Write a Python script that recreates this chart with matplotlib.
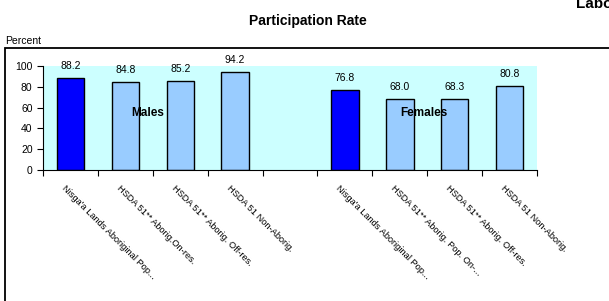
import matplotlib
matplotlib.use("Agg")
import matplotlib.pyplot as plt
from matplotlib.patches import Rectangle

categories = ["Nisga'a Lands Aboriginal Pop...", "HSDA 51** Aborig.On-res.",
              "HSDA 51** Aborig. Off-res.", "HSDA 51 Non-Aborig.", "",
              "Nisga'a Lands Aboriginal Pop...", "HSDA 51** Aborig. Pop. On-...",
              "HSDA 51** Aborig. Off-res.", "HSDA 51 Non-Aborig."]
values = [88.2, 84.8, 85.2, 94.2, None, 76.8, 68.0, 68.3, 80.8]
value_labels = ["88.2", "84.8", "85.2", "94.2", "", "76.8", "68.0", "68.3", "80.8"]
colors = ["#0000FF", "#99CCFF", "#99CCFF", "#99CCFF", None,
          "#0000FF", "#99CCFF", "#99CCFF", "#99CCFF"]
group_labels = ["Males", "Females"]
group_label_pos = [1.4, 6.43]
group_label_y = 55

W, H = 609, 301
fig = plt.figure(figsize=(W/100, H/100), dpi=100)
fig.patch.set_facecolor("white")

# frame
fig.add_artist(Rectangle((5/W, -0.1), 1.2, (1-48/H)+0.1, transform=fig.transFigure,
                         fill=False, edgecolor="black", linewidth=1.3))

ax = fig.add_axes([43/W, 1-170/H, (537-43)/W, (170-66)/H])
ax.set_facecolor("#CCFFFF")
for i, v in enumerate(values):
    if v is None:
        continue
    ax.bar(i, v, width=0.5, color=colors[i], edgecolor="black", linewidth=1.0)
    ax.annotate(value_labels[i], (i, v), xytext=(0, 5), textcoords="offset points",
                ha="center", va="bottom", fontsize=7.5, family="Liberation Sans")

for lab, x in zip(group_labels, group_label_pos):
    ax.text(x, group_label_y, lab, ha="center", va="center", fontsize=8.5,
            fontweight="bold", family="Liberation Sans")

ax.set_xlim(-0.5, len(categories) - 0.5)
ax.set_ylim(0, 100)
ax.set_yticks([0, 20, 40, 60, 80, 100])
ax.set_xticks([i - 0.5 for i in range(len(categories) + 1)])
ax.set_xticklabels([])
ax.tick_params(axis="both", direction="out", length=4, width=0.8, labelsize=7.5)
for lbl in ax.get_yticklabels():
    lbl.set_family("Liberation Sans")
for s in ["top", "right"]:
    ax.spines[s].set_visible(False)
for s in ["left", "bottom"]:
    ax.spines[s].set_linewidth(0.8)

for i, c in enumerate(categories):
    if not c:
        continue
    ax.annotate(c, (i, 0), xytext=(-3, -10), textcoords="offset points",
                rotation=-45, rotation_mode="anchor", ha="left", va="top",
                fontsize=6.7, family="Liberation Sans")

fig.text(308/W, 1-21/H, "Participation Rate", ha="center", va="center",
         fontsize=10, fontweight="bold", family="Liberation Sans")
fig.text(576/W, 1-4/H, "Labour Force", ha="left", va="center",
         fontsize=11, fontweight="bold", family="Liberation Sans")
fig.text(5/W, 1-41/H, "Percent", ha="left", va="center", fontsize=7.5,
         family="Liberation Sans")

fig.savefig("out.png", dpi=100)
